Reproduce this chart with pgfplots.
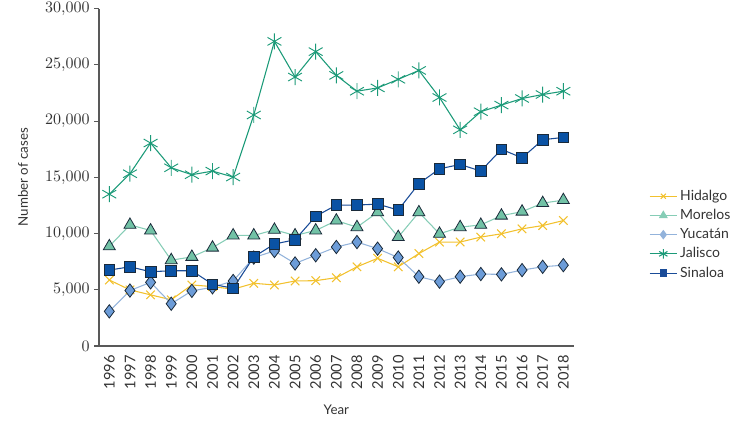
\documentclass[border=0pt]{standalone}
\usepackage{fontspec}
\setmainfont{Lato}
\newfontfamily\tickfont{lmroman10-regular.otf}
\usepackage{pgfplots}
\pgfplotsset{compat=1.18}
\definecolor{cHid}{HTML}{F2C12E}
\definecolor{cMorL}{HTML}{86CDB6}
\definecolor{cMorF}{HTML}{72C2A6}
\definecolor{cYucL}{HTML}{93B3DB}
\definecolor{cYucF}{HTML}{6C9CD8}
\definecolor{cJal}{HTML}{1B9A78}
\definecolor{cSin}{HTML}{1A4C98}
\definecolor{cSinF}{HTML}{0A52A4}
\definecolor{cEdge}{HTML}{1A2A3A}
\begin{document}
\begin{tikzpicture}
\begin{axis}[
  at={(0,0)}, anchor=south west,
  scale only axis, width=356pt, height=253pt,
  xmin=-0.5, xmax=22.5, ymin=0, ymax=30000,
  axis x line*=bottom, axis y line*=left,
  axis line style={color=black!65, line width=0.8pt},
  xtick={0,...,22},
  xticklabels={1996,1997,1998,1999,2000,2001,2002,2003,2004,2005,2006,2007,2008,2009,2010,2011,2012,2013,2014,2015,2016,2017,2018},
  x tick label style={rotate=90, anchor=east, font=\fontsize{11}{12}\selectfont, text=black!80},
  major x tick style={draw=none},
  extra x ticks={-0.5,0.5,...,22.5},
  extra x tick labels={},
  extra x tick style={major tick length=4pt, tick style={draw=black!65, line width=0.8pt}},
  ytick={0,5000,10000,15000,20000,25000,30000},
  scaled y ticks=false,
  y tick label style={font=\tickfont\fontsize{12}{14}\selectfont, text=black!80},
  yticklabel style={/pgf/number format/1000 sep={,}, /pgf/number format/assume math mode=true},
  tick align=outside, major tick length=3.5pt,
  tick style={draw=black!65, line width=0.8pt},
  xlabel={Year}, ylabel={Number of cases},
  xlabel style={font=\fontsize{10}{12}\selectfont, text=black!80, yshift=3pt},
  ylabel style={font=\fontsize{10}{12}\selectfont, text=black!80, yshift=6pt},
  legend style={at={(1.15,0.33)}, anchor=west, draw=none, fill=none,
    font=\fontsize{10.5}{12}\selectfont, text=black!80, row sep=1.2pt,
    legend cell align=left},
  legend image code/.code={\draw[#1, mark repeat=2, mark phase=2, mark options={scale=0.6}] plot coordinates {(0cm,0cm) (0.36cm,0cm) (0.72cm,0cm)};},
  clip=false,
]
\addplot[color=cHid, line width=0.8pt, mark=x, mark size=4.5pt, mark options={line width=0.8pt}] coordinates {
(0,5870) (1,4990) (2,4549) (3,4109) (4,5430) (5,5283) (6,5048) (7,5577) (8,5430) (9,5782) (10,5811) (11,6075) (12,7044)
(13,7800) (14,7044) (15,8218) (16,9245) (17,9245) (18,9686) (19,9979) (20,10419) (21,10713) (22,11153)};
\addlegendentry{Hidalgo}
\addplot[color=cMorL, line width=0.8pt, mark=triangle*, mark size=5.2pt, mark options={fill=cMorF, draw=cEdge, line width=0.6pt}] coordinates {
(0,8864) (1,10772) (2,10273) (3,7631) (4,7925) (5,8746) (6,9832) (7,9832) (8,10331) (9,9832) (10,10273) (11,11153) (12,10566)
(13,11887) (14,9686) (15,11887) (16,9979) (17,10566) (18,10772) (19,11593) (20,11946) (21,12709) (22,12973)};
\addlegendentry{Morelos}
\addplot[color=cYucL, line width=0.8pt, mark=diamond*, mark size=5pt, mark options={fill=cYucF, draw=cEdge, line width=0.6pt}] coordinates {
(0,3082) (1,4931) (2,5665) (3,3757) (4,4901) (5,5224) (6,5782) (7,7866) (8,8453) (9,7338) (10,8071) (11,8805) (12,9245)
(13,8658) (14,7866) (15,6164) (16,5723) (17,6164) (18,6398) (19,6369) (20,6750) (21,7044) (22,7191)};
\addlegendentry{Yucat\'an}
\addplot[color=cJal, line width=0.8pt, mark=asterisk, mark size=6pt, mark options={line width=0.7pt}] coordinates {
(0,13501) (1,15322) (2,18050) (3,15850) (4,15233) (5,15555) (6,15027) (7,20545) (8,27090) (9,23920) (10,26180) (11,24067) (12,22660)
(13,22953) (14,23716) (15,24508) (16,22100) (17,19224) (18,20838) (19,21425) (20,22012) (21,22365) (22,22658)};
\addlegendentry{Jalisco}
\addplot[color=cSin, line width=0.8pt, mark=square*, mark size=4pt, mark options={fill=cSinF, draw=cEdge, line width=0.6pt}] coordinates {
(0,6750) (1,7044) (2,6604) (3,6692) (4,6692) (5,5488) (6,5136) (7,7925) (8,9069) (9,9451) (10,11535) (11,12532) (12,12532)
(13,12620) (14,12092) (15,14440) (16,15761) (17,16143) (18,15556) (19,17493) (20,16730) (21,18344) (22,18549)};
\addlegendentry{Sinaloa}
\end{axis}
\pgfresetboundingbox
\useasboundingbox (-74.25pt,-61.75pt) rectangle (488.25pt,259.5pt);
\end{tikzpicture}
\end{document}
